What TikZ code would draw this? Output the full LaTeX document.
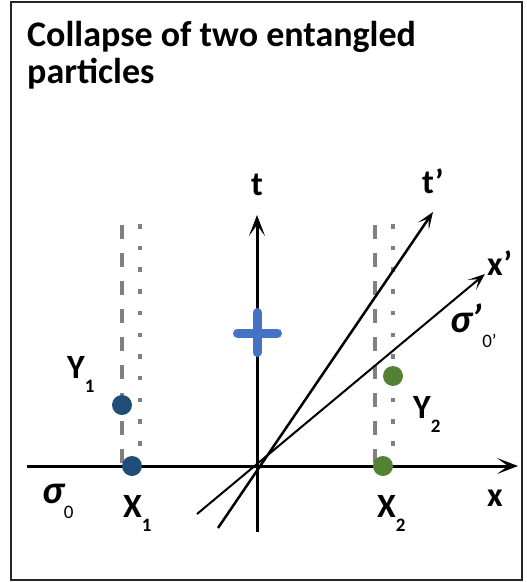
\documentclass[tikz,border=0pt]{standalone}
\usepackage{fontspec}
\setmainfont{Carlito}
\usetikzlibrary{arrows.meta}
\definecolor{navydot}{HTML}{1F4E79}
\definecolor{greendot}{HTML}{548235}
\definecolor{crossblue}{HTML}{4472C4}
\definecolor{guidegray}{HTML}{808080}
\newcommand{\sublbl}[2]{#1\raisebox{-14pt}{\fontsize{19}{19}\selectfont #2}}

\begin{document}
\begin{tikzpicture}[x=1pt,y=-1pt,
  axis/.style={line width=3pt, -{Stealth[length=21pt,width=16pt,inset=11pt]}},
  primeaxis/.style={line width=2.5pt, -{Stealth[length=17pt,width=13pt,inset=9pt]}},
  lbl/.style={font=\fontsize{34}{34}\selectfont\bfseries, inner sep=0pt, anchor=base west},
  dashguide/.style={guidegray, line width=3.5pt, dash pattern=on 14pt off 14pt},
  dotguide/.style={guidegray, line width=4.5pt, dash pattern=on 4.5pt off 17.2pt},
  particle/.style={circle, inner sep=0pt, minimum size=20pt, fill=#1}]
\useasboundingbox (0,0) rectangle (527,582);
\draw[black!85, line width=2pt] (11,2) rectangle (522,580);

\node[font=\fontsize{36}{37}\selectfont\bfseries, align=left, anchor=north west, inner sep=0pt] (title) at (27,21) {Collapse of two entangled\\particles};

% guides of the two particles
\draw[dashguide] (122,225) -- (122,466);
\draw[dotguide] (140,224) -- (140,449);
\draw[dashguide] (375,225) -- (375,466);
\draw[dotguide] (393,224) -- (393,449);

% frames
\coordinate (O) at (257,466);
\coordinate (xstart) at (27,466);
\coordinate (xend) at (518,466);
\coordinate (tstart) at (257,532);
\coordinate (tend) at (257,215);
\coordinate (tpstart) at (218,528);
\coordinate (tpend) at (433,212);
\coordinate (xpstart) at (197,514);
\coordinate (xpend) at (485,274);
\draw[axis] (xstart) -- (xend);
\draw[axis] (tstart) -- (tend);
\draw[primeaxis] (tpstart) -- (tpend);
\draw[primeaxis, line width=2pt] (xpstart) -- (xpend);

\node[particle=navydot] (y1) at (122,405) {};
\node[particle=navydot] (x1) at (132,466) {};
\node[particle=greendot] (y2) at (393,376) {};
\node[particle=greendot] (x2) at (383,466) {};

\draw[crossblue, line width=9pt, line cap=round] (237.5,333) -- (277.5,333) (257,312.5) -- (257,352.5);

\node[lbl, anchor=base] (tlab) at (257,195) {t};
\node[lbl] (tplab) at (422,193) {t’};
\node[lbl] (xplab) at (487,275) {x’};
\node[lbl] (xlab) at (487,506) {x};
\node[lbl] (y1lab) at (67,378) {\sublbl{Y}{1}};
\node[lbl] (y2lab) at (413,418) {\sublbl{Y}{2}};
\node[lbl] (x1lab) at (123,517) {\sublbl{X}{1}};
\node[lbl] (x2lab) at (377,517) {\sublbl{X}{2}};
\node[lbl] (sigma0) at (42,503) {\fontsize{40}{40}\selectfont\itshape σ\raisebox{-15pt}{\fontsize{19}{19}\selectfont\mdseries\upshape 0}};
\node[lbl] (sigmap) at (450,332) {\fontsize{40}{40}\selectfont\itshape σ’\raisebox{-15pt}{\fontsize{19}{19}\selectfont\mdseries\upshape 0’}};
\end{tikzpicture}
\end{document}
